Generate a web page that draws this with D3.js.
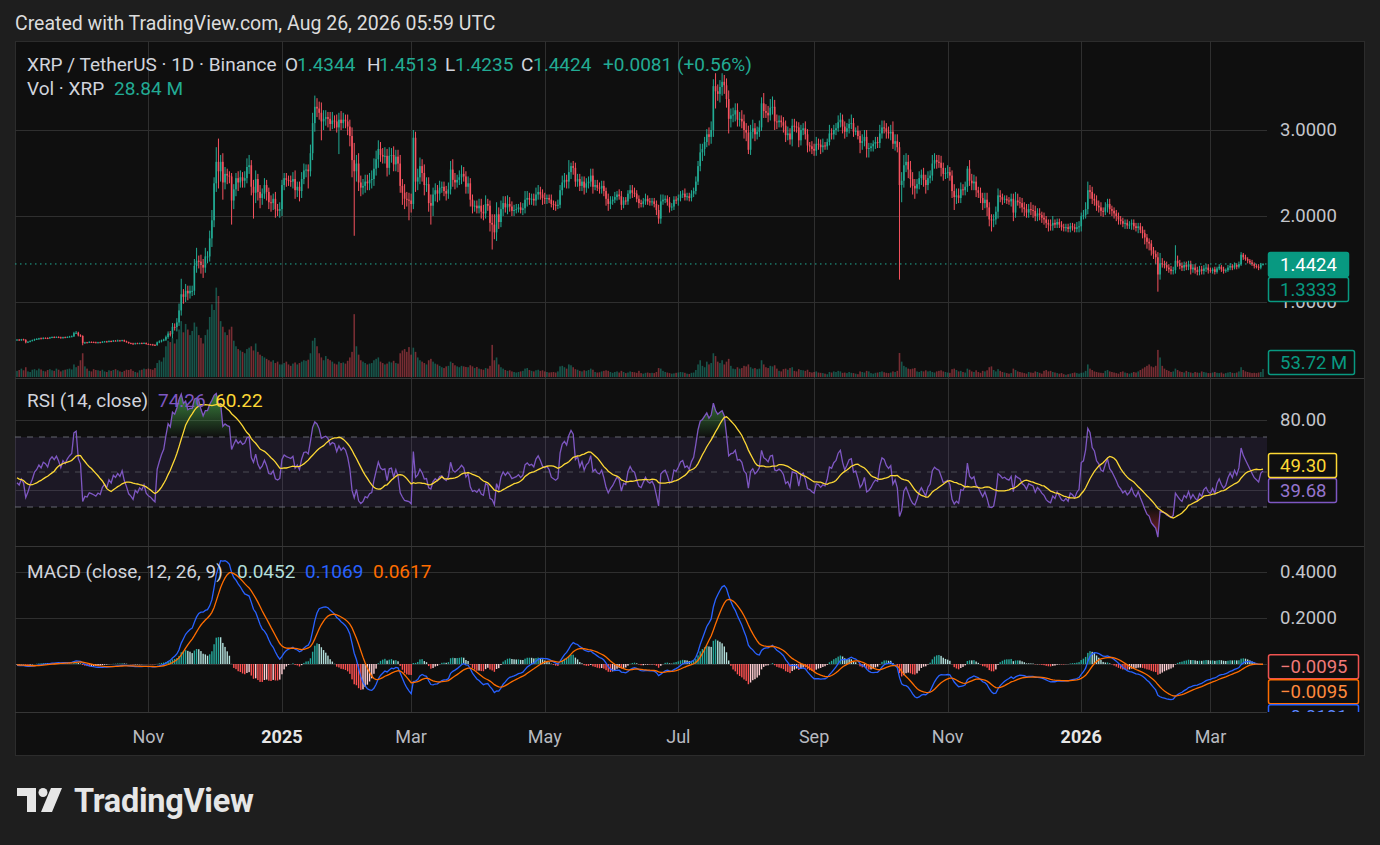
<!DOCTYPE html>
<html>
<head>
<meta charset="utf-8">
<title>XRP / TetherUS · 1D · Binance</title>
<script src="https://cdn.jsdelivr.net/npm/d3@7"></script>
<style>
  html, body { margin: 0; padding: 0; background: #1e1e1e; }
  svg { display: block; font-family: Roboto, "Noto Sans", sans-serif; }
</style>
</head>
<body>
<svg id="chart" width="1380" height="845"></svg>
<script>

// ---- Data (daily candles, Sep 2 2024 -> Mar 25 2026) ----------------------

var firstDay = new Date(Date.UTC(2024, 8, 2));

// Closes before the visible range, only used to warm up RSI / MACD.
var warmupCloses = [
  0.604,0.595,0.601,0.612,0.603,0.618,0.628,0.613,0.584,0.562,
  0.534,0.502,0.521,0.618,0.573,0.561,0.558,0.571,0.563,0.574,
  0.572,0.565,0.573,0.592,0.603,0.598,0.591,0.602,0.594,0.589,
  0.601,0.592,0.586,0.571,0.562,0.569,0.558,0.566,0.559,0.561
];

var closes = [
  // 2024 Sep
  0.562,0.558,0.566,0.559,0.531,0.538,0.548,0.556,0.567,0.571,0.578,0.574,0.583,0.581,0.577,0.588,0.592,0.589,0.594,0.589,0.582,0.591,0.588,0.594,0.598,0.601,0.638,0.642,0.612,
  // Oct
  0.605,0.522,0.531,0.529,0.536,0.534,0.531,0.528,0.532,0.529,0.538,0.542,0.536,0.546,0.541,0.551,0.548,0.553,0.549,0.556,0.543,0.534,0.522,0.518,0.512,0.521,0.517,0.522,0.519,0.524,0.512,
  // Nov
  0.508,0.506,0.502,0.499,0.531,0.542,0.553,0.562,0.592,0.633,0.629,0.711,0.708,0.762,0.902,1.09,1.06,1.13,1.10,1.13,1.13,1.42,1.48,1.47,1.43,1.40,1.53,1.53,1.74,1.95,
  // Dec
  2.38,2.63,2.52,2.63,2.39,2.49,2.47,2.46,2.18,2.31,2.44,2.39,2.45,2.41,2.44,2.57,2.59,2.34,2.27,2.43,2.28,2.21,2.26,2.36,2.28,2.16,2.15,2.20,2.08,2.06,2.08,
  // 2025 Jan
  2.36,2.44,2.42,2.41,2.40,2.43,2.30,2.34,2.29,2.43,2.53,2.54,2.52,2.73,3.08,3.27,3.25,3.20,3.10,3.13,3.15,3.13,3.07,3.11,3.10,3.03,3.12,3.08,3.12,3.10,3.04,
  // Feb
  2.93,2.65,2.52,2.61,2.39,2.33,2.35,2.40,2.38,2.42,2.43,2.55,2.66,2.78,2.71,2.69,2.70,2.56,2.70,2.71,2.60,2.69,2.61,2.35,2.27,2.20,2.19,2.18,
  // Mar
  2.14,2.91,2.40,2.45,2.58,2.50,2.36,2.37,2.15,2.12,2.25,2.30,2.26,2.33,2.34,2.29,2.26,2.31,2.54,2.42,2.39,2.42,2.45,2.49,2.46,2.34,2.38,2.19,2.11,2.12,2.09,
  // Apr
  2.12,2.05,2.03,2.14,2.12,1.92,1.90,1.81,2.02,1.93,2.08,2.15,2.10,2.14,2.11,2.06,2.07,2.08,2.10,2.07,2.09,2.19,2.21,2.19,2.20,2.18,2.25,2.28,2.25,2.21,
  // May
  2.20,2.21,2.19,2.14,2.13,2.12,2.13,2.30,2.39,2.42,2.40,2.51,2.58,2.56,2.40,2.43,2.35,2.40,2.33,2.38,2.40,2.47,2.34,2.36,2.33,2.32,2.35,2.29,2.20,2.14,2.17,
  // Jun
  2.19,2.22,2.25,2.23,2.13,2.18,2.17,2.26,2.30,2.27,2.26,2.20,2.15,2.14,2.17,2.20,2.17,2.16,2.17,2.14,2.07,1.97,2.17,2.19,2.20,2.16,2.10,2.11,2.19,2.18,
  // Jul
  2.21,2.25,2.26,2.22,2.23,2.21,2.26,2.29,2.40,2.58,2.74,2.78,2.86,2.95,2.92,3.00,3.51,3.45,3.42,3.50,3.56,3.52,3.36,3.13,3.17,3.18,3.23,3.12,3.13,3.10,3.00,
  // Aug
  2.97,2.77,2.98,3.02,2.95,2.98,3.03,3.31,3.22,3.20,3.17,3.26,3.27,3.10,3.09,3.11,3.09,3.05,2.94,2.96,2.89,3.05,3.04,3.03,2.88,3.00,3.02,2.95,2.82,2.81,2.78,
  // Sep
  2.76,2.84,2.83,2.80,2.82,2.81,2.86,2.96,2.95,3.00,3.02,3.09,3.12,3.04,2.98,3.02,3.07,3.08,2.98,2.99,2.93,2.85,2.87,2.92,2.78,2.79,2.81,2.84,2.86,2.85,
  // Oct
  2.96,3.03,3.02,2.98,2.96,2.98,2.84,2.87,2.80,2.36,2.41,2.59,2.63,2.54,2.43,2.35,2.32,2.37,2.44,2.48,2.42,2.36,2.44,2.47,2.61,2.65,2.63,2.62,2.56,2.49,2.50,
  // Nov
  2.51,2.47,2.29,2.22,2.24,2.21,2.31,2.30,2.34,2.55,2.41,2.38,2.40,2.30,2.27,2.21,2.15,2.19,2.10,1.96,1.95,1.96,2.05,2.24,2.22,2.19,2.20,2.18,2.17,2.20,
  // Dec
  2.04,2.18,2.16,2.15,2.10,2.08,2.04,2.08,2.07,2.06,2.00,2.03,2.01,1.98,1.96,1.92,1.90,1.89,1.92,1.90,1.93,1.90,1.87,1.86,1.87,1.85,1.88,1.87,1.85,1.87,1.88,
  // 2026 Jan
  2.00,2.01,2.08,2.30,2.28,2.20,2.18,2.12,2.10,2.06,2.05,2.10,2.14,2.08,2.06,2.03,2.00,1.96,1.94,1.91,1.92,1.89,1.90,1.92,1.88,1.86,1.88,1.84,1.80,1.75,1.70,
  // Feb
  1.68,1.60,1.56,1.52,1.32,1.45,1.44,1.43,1.40,1.38,1.36,1.37,1.48,1.45,1.42,1.40,1.43,1.41,1.44,1.38,1.40,1.37,1.35,1.38,1.36,1.39,1.40,1.37,
  // Mar
  1.36,1.38,1.35,1.39,1.41,1.38,1.36,1.37,1.40,1.42,1.40,1.43,1.41,1.44,1.55,1.52,1.50,1.48,1.46,1.44,1.42,1.41,1.40,1.4344,1.4424
];

// Wick above max(open, close) and below min(open, close), in cents.
var wickUp = [
  0.6,0.8,0.5,0.7,0.9,0.6,0.5,0.7,0.6,0.8,0.5,0.9,0.6,0.5,0.8,0.6,0.7,0.9,0.5,0.6,0.8,0.5,0.7,0.6,0.8,0.9,1.5,2.0,1.2,
  1.2,0.8,0.6,0.5,0.7,0.5,0.6,0.8,0.5,0.6,0.7,0.5,0.6,0.8,0.6,0.7,0.5,0.9,0.6,0.5,0.6,0.7,0.5,0.6,0.8,0.5,0.6,0.5,0.7,0.6,0.5,
  0.6,0.5,0.7,0.6,0.9,1.2,1.0,1.1,1.8,2.5,3,4.5,4,5,8,18,6,8,6,6,6,8,15,6,8,7,10,6,9,12,
  7,17,27,8,10,8,6,5,4,6,6,8,8,6,8,10,12,6,8,10,6,8,6,8,6,5,8,6,8,6,8,
  6,6,6,5,6,8,10,6,6,8,8,6,6,10,12,13,10,8,12,10,8,6,8,10,6,8,8,10,8,6,8,
  8,10,20,10,12,8,8,8,8,8,10,12,10,10,8,8,10,8,10,8,10,8,8,10,8,10,8,8,
  8,9,7,10,10,8,10,8,8,10,8,8,6,8,6,6,6,8,10,12,8,6,8,10,8,6,8,6,6,6,6,
  8,8,8,10,6,6,10,12,14,8,10,8,8,10,8,6,6,6,4,6,6,10,8,6,6,6,8,8,6,6,
  6,4,4,6,4,4,6,6,8,8,6,14,4,6,6,6,6,6,6,6,6,8,8,6,6,6,6,6,4,6,6,
  4,6,4,6,6,4,4,4,6,6,6,4,4,4,4,6,4,4,4,4,4,6,8,6,4,4,6,4,4,4,
  4,4,4,6,4,4,4,4,6,6,10,6,6,6,8,10,8,15,8,8,10,8,8,10,8,8,8,8,8,10,8,
  8,8,8,10,6,6,8,7,12,8,8,10,12,8,8,6,6,6,6,8,6,8,8,6,6,6,6,8,6,4,6,
  6,8,6,6,8,4,4,10,6,6,6,8,8,6,6,6,6,10,6,4,6,6,8,8,8,6,4,4,6,6,
  10,8,8,6,6,8,12,8,8,6,10,12,10,8,10,8,8,6,8,6,8,6,8,6,10,8,6,8,8,6,6,
  8,6,6,8,8,8,8,6,6,3,10,8,8,6,4,6,6,8,8,6,6,6,6,8,6,4,4,4,4,6,
  6,10,8,6,6,6,6,6,8,6,6,6,6,4,6,4,4,6,8,4,4,4,4,4,4,4,4,4,4,6,6,
  4,6,8,10,6,6,6,6,6,6,4,6,6,6,4,4,4,4,4,4,4,4,4,4,4,4,4,4,4,4,4,
  4,4,4,4,6,12,6,4,4,4,4,4,18,6,4,4,4,4,4,4,4,4,4,4,4,4,4,4,
  3,2,3,2,3,2,3,2,3,3,2,3,2,3,3,2,3,2,2,3,2,2,3,2,0.89
];

var wickDown = [
  0.7,0.6,0.9,0.5,1.2,0.6,0.7,0.5,0.8,0.6,0.9,0.5,0.7,0.6,0.8,0.5,0.6,0.7,0.5,0.9,0.6,0.8,0.5,0.7,0.6,0.5,0.8,1.0,1.2,
  1.0,2.5,0.8,0.6,0.5,0.7,0.6,0.5,0.8,0.6,0.5,0.7,0.6,0.5,0.8,0.6,0.5,0.7,0.6,0.5,0.8,0.6,0.7,0.5,0.8,0.6,0.5,0.7,0.6,0.5,0.8,
  0.8,0.6,0.7,0.9,0.8,1.0,1.2,1.0,1.5,2.0,3,5,4,5,4,6,8,6,8,6,6,5,8,8,10,12,6,8,6,10,
  8,10,20,12,20,8,10,8,28,10,8,10,6,8,8,6,8,10,30,12,10,12,8,6,10,8,10,8,10,6,8,
  8,6,8,6,6,8,10,8,12,8,6,8,20,6,8,10,10,8,22,10,8,10,8,6,8,6,31,8,6,8,10,
  12,20,75,12,10,10,8,8,8,8,10,8,8,10,8,8,8,10,8,8,8,8,10,8,14,12,8,23,
  10,6,12,10,8,10,12,8,10,22,12,8,10,8,6,6,8,6,6,8,8,6,6,8,6,8,8,8,8,6,6,
  6,8,8,6,6,10,29,8,10,8,6,8,6,8,6,6,6,4,4,4,6,6,8,6,6,6,6,6,6,8,
  6,6,4,4,6,6,4,4,6,6,8,8,8,8,6,6,6,6,8,6,6,6,8,4,4,6,6,6,8,8,6,
  4,4,4,4,6,4,4,4,6,6,4,4,6,4,4,4,4,4,4,4,6,6,6,4,4,4,6,4,4,4,
  6,4,4,4,4,4,4,4,4,4,6,10,8,6,10,8,8,20,8,10,10,10,10,17,10,8,8,8,8,8,10,
  10,5,6,8,8,6,6,4,8,6,8,6,8,10,8,6,6,8,8,6,6,8,6,6,8,6,6,6,8,6,6,
  6,6,6,8,6,4,4,4,6,6,6,4,6,8,8,6,6,6,6,4,4,12,8,6,10,10,4,6,6,6,
  6,6,6,8,6,8,6,8,6,110,20,8,8,10,10,10,12,6,6,8,8,10,6,6,6,6,8,6,10,8,6,
  6,6,8,15,8,6,6,6,6,6,6,8,8,8,6,6,8,6,10,8,13,8,6,8,6,6,4,4,4,6,
  10,6,4,6,6,8,6,6,6,8,6,6,6,6,6,6,8,6,6,4,4,4,4,4,4,4,4,4,4,4,6,
  6,4,4,6,8,6,6,6,6,6,6,4,6,6,6,6,6,6,4,4,6,4,4,6,4,4,6,4,6,8,8,
  8,6,6,8,20,6,4,4,4,4,4,4,4,4,4,4,4,4,4,6,4,4,4,4,4,4,4,4,
  2,3,3,2,2,3,3,2,2,3,3,2,3,2,2,3,2,3,2,2,3,2,3,2,1.09
];

// Daily volume, millions of XRP.
var volumes = [
  22,25,30,24,35,20,18,26,28,24,30,27,22,20,25,28,24,22,30,26,20,24,26,28,30,27,45,35,40,
  60,85,38,30,22,20,28,25,24,22,26,20,18,24,22,25,28,24,20,18,22,26,25,28,22,18,16,24,26,30,28,
  30,28,26,32,50,60,55,70,110,130,125,140,120,135,170,200,160,190,170,150,165,195,180,150,140,120,150,170,215,260,
  240,320,290,200,180,160,150,170,180,130,110,100,95,90,85,100,105,110,95,120,90,80,75,70,65,60,55,60,50,55,45,
  45,50,55,45,40,48,52,45,50,55,60,58,62,85,130,140,110,85,70,60,75,65,60,55,48,45,55,50,52,48,58,
  70,90,225,110,80,60,55,50,45,48,50,60,65,70,55,50,45,48,55,52,58,50,48,85,95,100,90,107,
  80,105,90,70,60,55,50,45,60,65,55,48,45,40,35,32,38,40,55,50,42,38,35,40,38,36,35,42,38,32,36,
  30,28,26,32,30,40,115,60,70,45,35,30,25,22,24,20,18,16,18,20,22,30,32,25,22,20,24,26,22,24,
  20,18,16,17,18,16,20,38,40,35,30,45,42,35,28,26,22,20,24,22,25,30,26,18,16,17,20,22,24,22,18,
  15,18,20,16,22,18,14,16,20,18,17,15,22,14,12,15,16,14,15,14,18,32,30,22,18,16,14,12,13,15,
  16,18,17,15,12,11,15,16,25,45,60,40,35,55,45,50,85,75,55,50,60,45,55,65,40,30,28,35,30,32,40,
  38,45,35,30,32,28,30,60,45,35,32,40,38,42,30,22,20,28,30,26,32,35,22,20,28,25,24,22,26,18,16,
  18,20,16,15,14,12,10,18,16,20,18,22,20,15,16,14,18,15,14,12,10,20,18,16,22,20,14,12,15,16,
  18,20,17,15,14,16,20,18,22,86,55,40,35,30,28,30,32,20,18,22,20,24,20,22,18,16,20,22,24,20,18,
  16,15,28,30,25,20,22,18,16,30,26,20,18,24,18,15,22,20,24,35,38,25,20,28,22,18,16,14,12,14,
  30,25,20,18,16,14,12,18,16,15,20,18,15,12,22,25,20,22,18,16,14,12,14,10,8,10,12,14,16,14,12,
  15,16,22,45,30,25,20,18,16,15,14,22,25,20,18,16,14,12,18,20,16,14,12,15,18,16,20,25,30,35,40,
  45,38,35,40,97,70,40,30,25,22,18,20,30,25,20,18,16,22,18,16,14,18,16,15,20,18,16,14,
  14,16,18,15,14,16,12,14,16,18,15,14,16,20,35,25,20,18,16,14,15,14,16,18,28.84
];

// Axis ticks and the value tags on the right-hand scale.
var priceTicks = [3, 2, 1];
var rsiTicks = [80, 40];
var rsiLevels = [70, 50, 30];
var macdTicks = [0.4, 0.2, 0];
var priceTags = [1.4424, 1.3333];
var volumeTag = 53.72;
var rsiTags = [39.68, 49.30];
var macdTags = [-0.0095, -0.0095, -0.0191];

var headerText = 'Created with TradingView.com, Aug 26, 2026 05:59 UTC';
var legendOhlc = ['1.4344', '1.4513', '1.4235', '1.4424'];
var legendChange = ['+0.0081', '(+0.56%)'];
var legendVolume = '28.84 M';
var legendRsi = ['74.26', '60.22'];
var legendMacd = ['0.0452', '0.1069', '0.0617'];


// ---- Colours & layout -------------------------------------------------------

var UP = '#22ab94', DOWN = '#f7525f';
var GRID = '#2f2f2f', TEXT = '#d1d4dc', AXIS_TEXT = '#c4c6cc';
var RSI_COLOR = '#7e57c2', RSI_MA = '#fdd835';
var MACD_COLOR = '#2962ff', SIGNAL_COLOR = '#ff6d00';

var frameLeft = 15, frameRight = 1364, frameTop = 41, frameBottom = 755;
var plotRight = 1267;
var panes = { price: [frameTop, 378], rsi: [378, 546], macd: [546, 712] };
var tagX = 1268, tagH = 24;


// ---- Indicators --------------------------------------------------------------

/**
 * Exponential moving average.
 */
function ema(values, n) {
  var k = 2 / (n + 1), prev = null;
  return values.map(function(v) {
    prev = prev === null ? v : v * k + prev * (1 - k);
    return prev;
  });
}

/**
 * Simple moving average, skipping the leading nulls.
 */
function sma(values, n) {
  return values.map(function(v, i) {
    var win = values.slice(Math.max(0, i - n + 1), i + 1)
      .filter(function(d) { return d !== null; });
    return win.length < n ? null : d3.mean(win);
  });
}

/**
 * Wilder's RSI.
 */
function rsi(values, n) {
  var avgUp = 0, avgDown = 0;
  return values.map(function(v, i) {
    if (i === 0) return null;
    var ch = v - values[i - 1];
    var up = Math.max(ch, 0), down = Math.max(-ch, 0);
    if (i <= n) {
      avgUp += up / n;
      avgDown += down / n;
    } else {
      avgUp = (avgUp * (n - 1) + up) / n;
      avgDown = (avgDown * (n - 1) + down) / n;
    }
    if (i < n) return null;
    return avgDown === 0 ? 100 : 100 - 100 / (1 + avgUp / avgDown);
  });
}

var n = closes.length;
if (wickUp.length !== n || wickDown.length !== n || volumes.length !== n) {
  throw new Error('series length mismatch: ' +
    [n, wickUp.length, wickDown.length, volumes.length].join(','));
}

var allCloses = warmupCloses.concat(closes);
var skip = warmupCloses.length;
var rsiAll = rsi(allCloses, 14);
var rsiMaAll = sma(rsiAll, 14);
var ema12 = ema(allCloses, 12), ema26 = ema(allCloses, 26);
var macdAll = ema12.map(function(v, i) { return v - ema26[i]; });
var signalAll = ema(macdAll, 9);

var bars = closes.map(function(c, i) {
  var j = i + skip;
  var open = allCloses[j - 1];
  return {
    date: d3.utcDay.offset(firstDay, i),
    open: open,
    close: c,
    high: Math.max(open, c) + wickUp[i] / 100,
    low: Math.min(open, c) - wickDown[i] / 100,
    volume: volumes[i],
    rsi: rsiAll[j],
    rsiMa: rsiMaAll[j],
    macd: macdAll[j],
    signal: signalAll[j],
    hist: macdAll[j] - signalAll[j],
    histPrev: macdAll[j - 1] - signalAll[j - 1]
  };
});


// ---- Scales ------------------------------------------------------------------

var x = d3.scaleUtc()
  .domain([firstDay, bars[n - 1].date])
  .range([17, 1263]);
var yPrice = d3.scaleLinear().domain([1, 3]).range([302, 130]);
var yVol = d3.scaleLinear().domain([0, 358]).range([377, 277]);
var yRsi = d3.scaleLinear().domain([30, 70]).range([507, 437]);
var yMacd = d3.scaleLinear().domain([0, 0.4]).range([664, 572]);
var monthTicks = x.ticks(d3.utcMonth.every(2));


// ---- Frame -------------------------------------------------------------------

var svg = d3.select('#chart');
var defs = svg.append('defs');

svg.append('rect')
  .attr('width', 1380).attr('height', 845).attr('fill', '#1e1e1e');

svg.append('text')
  .attr('x', 15).attr('y', 23).attr('dy', '0.35em')
  .attr('fill', '#dcdcdc').attr('font-size', 19.5)
  .text(headerText);

svg.append('rect')
  .attr('x', frameLeft + 0.5).attr('y', frameTop + 0.5)
  .attr('width', frameRight - frameLeft).attr('height', frameBottom - frameTop)
  .attr('fill', '#0f0f0f').attr('stroke', '#2c2c2c');

// One clip rectangle per pane.
Object.keys(panes).forEach(function(key) {
  defs.append('clipPath').attr('id', 'clip-' + key)
    .append('rect')
    .attr('x', frameLeft).attr('y', panes[key][0])
    .attr('width', plotRight - frameLeft)
    .attr('height', panes[key][1] - panes[key][0]);
});

var grid = svg.append('g').attr('stroke', GRID).attr('stroke-width', 1);

// Vertical month lines run through all three panes.
grid.selectAll('line.v').data(monthTicks).join('line')
  .attr('x1', function(d) { return Math.round(x(d)) + 0.5; })
  .attr('x2', function(d) { return Math.round(x(d)) + 0.5; })
  .attr('y1', frameTop).attr('y2', 712);

function hline(y, x1, x2, color) {
  grid.append('line')
    .attr('x1', x1).attr('x2', x2)
    .attr('y1', Math.round(y) + 0.5).attr('y2', Math.round(y) + 0.5)
    .attr('stroke', color || GRID);
}

priceTicks.forEach(function(v) { hline(yPrice(v), frameLeft, plotRight); });
rsiTicks.forEach(function(v) { hline(yRsi(v), frameLeft, plotRight); });
macdTicks.forEach(function(v) { hline(yMacd(v), frameLeft, plotRight); });

// Pane separators and the time-axis edge.
hline(panes.price[1], frameLeft, frameRight, '#363636');
hline(panes.rsi[1], frameLeft, frameRight, '#363636');
hline(712, frameLeft, plotRight, '#363636');


// ---- Price pane --------------------------------------------------------------

var pricePane = svg.append('g').attr('clip-path', 'url(#clip-price)');
var bw = 1.6;

pricePane.append('g').selectAll('rect').data(bars).join('rect')
  .attr('x', function(d) { return x(d.date) - bw / 2; })
  .attr('width', bw)
  .attr('y', function(d) { return yVol(d.volume); })
  .attr('height', function(d) { return yVol(0) - yVol(d.volume); })
  .attr('fill', function(d) { return d.close >= d.open ? UP : DOWN; })
  .attr('fill-opacity', 0.45);

var candles = pricePane.append('g').selectAll('g').data(bars).join('g')
  .attr('fill', function(d) { return d.close >= d.open ? UP : DOWN; })
  .attr('stroke', function(d) { return d.close >= d.open ? UP : DOWN; });

candles.append('line')
  .attr('x1', function(d) { return x(d.date); })
  .attr('x2', function(d) { return x(d.date); })
  .attr('y1', function(d) { return yPrice(d.high); })
  .attr('y2', function(d) { return yPrice(d.low); })
  .attr('stroke-width', 1);

candles.append('rect')
  .attr('stroke', 'none')
  .attr('x', function(d) { return x(d.date) - bw / 2; })
  .attr('width', bw)
  .attr('y', function(d) { return yPrice(Math.max(d.open, d.close)); })
  .attr('height', function(d) {
    return Math.max(1, Math.abs(yPrice(d.open) - yPrice(d.close)));
  });

// Last price line.
svg.append('line')
  .attr('x1', frameLeft).attr('x2', plotRight)
  .attr('y1', yPrice(bars[n - 1].close)).attr('y2', yPrice(bars[n - 1].close))
  .attr('stroke', UP).attr('stroke-dasharray', '1.5,3.5');


// ---- RSI pane ----------------------------------------------------------------

var rsiPane = svg.append('g').attr('clip-path', 'url(#clip-rsi)');

rsiPane.append('rect')
  .attr('x', frameLeft).attr('width', plotRight - frameLeft)
  .attr('y', yRsi(70)).attr('height', yRsi(30) - yRsi(70))
  .attr('fill', 'rgba(126,87,194,0.12)');

rsiPane.selectAll('line.level').data(rsiLevels).join('line')
  .attr('x1', frameLeft).attr('x2', plotRight)
  .attr('y1', function(d) { return yRsi(d); })
  .attr('y2', function(d) { return yRsi(d); })
  .attr('stroke', '#787b86')
  .attr('stroke-opacity', function(d) { return d === 50 ? 0.5 : 0.8; })
  .attr('stroke-dasharray', '6,6');

function gradient(id, color, y1, y2) {
  var g = defs.append('linearGradient').attr('id', id)
    .attr('gradientUnits', 'userSpaceOnUse')
    .attr('x1', 0).attr('x2', 0).attr('y1', y1).attr('y2', y2);
  g.append('stop').attr('offset', 0).attr('stop-color', color).attr('stop-opacity', 0.9);
  g.append('stop').attr('offset', 1).attr('stop-color', color).attr('stop-opacity', 0);
}
gradient('ob', '#4caf50', yRsi(100), yRsi(70));
gradient('os', '#f23645', yRsi(0), yRsi(30));

var rsiBars = bars.filter(function(d) { return d.rsi !== null; });

rsiPane.append('path').datum(rsiBars)
  .attr('fill', 'url(#ob)')
  .attr('d', d3.area()
    .x(function(d) { return x(d.date); })
    .y0(yRsi(70))
    .y1(function(d) { return yRsi(Math.max(d.rsi, 70)); }));

rsiPane.append('path').datum(rsiBars)
  .attr('fill', 'url(#os)')
  .attr('d', d3.area()
    .x(function(d) { return x(d.date); })
    .y0(yRsi(30))
    .y1(function(d) { return yRsi(Math.min(d.rsi, 30)); }));

rsiPane.append('path').datum(rsiBars)
  .attr('fill', 'none').attr('stroke', RSI_COLOR).attr('stroke-width', 1.3)
  .attr('d', d3.line()
    .x(function(d) { return x(d.date); })
    .y(function(d) { return yRsi(d.rsi); }));

rsiPane.append('path')
  .datum(bars.filter(function(d) { return d.rsiMa !== null; }))
  .attr('fill', 'none').attr('stroke', RSI_MA).attr('stroke-width', 1.3)
  .attr('d', d3.line()
    .x(function(d) { return x(d.date); })
    .y(function(d) { return yRsi(d.rsiMa); }));


// ---- MACD pane ---------------------------------------------------------------

var macdPane = svg.append('g').attr('clip-path', 'url(#clip-macd)');

function histColor(d) {
  if (d.hist >= 0) return d.hist > d.histPrev ? '#26a69a' : '#b2dfdb';
  return d.hist > d.histPrev ? '#ffcdd2' : '#ff5252';
}

macdPane.append('g').selectAll('rect').data(bars).join('rect')
  .attr('x', function(d) { return x(d.date) - 0.7; })
  .attr('width', 1.4)
  .attr('y', function(d) { return Math.min(yMacd(0), yMacd(d.hist)); })
  .attr('height', function(d) { return Math.abs(yMacd(d.hist) - yMacd(0)); })
  .attr('fill', histColor);

macdPane.append('path').datum(bars)
  .attr('fill', 'none').attr('stroke', MACD_COLOR).attr('stroke-width', 1.3)
  .attr('d', d3.line()
    .x(function(d) { return x(d.date); })
    .y(function(d) { return yMacd(d.macd); }));

macdPane.append('path').datum(bars)
  .attr('fill', 'none').attr('stroke', SIGNAL_COLOR).attr('stroke-width', 1.3)
  .attr('d', d3.line()
    .x(function(d) { return x(d.date); })
    .y(function(d) { return yMacd(d.signal); }));


// ---- Right-hand scale --------------------------------------------------------

var axis = svg.append('g')
  .attr('font-size', 18.5).attr('fill', AXIS_TEXT);

function axisText(y, text) {
  axis.append('text')
    .attr('x', 1280).attr('y', y).attr('dy', '0.35em').text(text);
}

// Tick labels that sit under a value tag are hidden, as on the original.
priceTicks.forEach(function(v) { axisText(yPrice(v), v.toFixed(4)); });
rsiTicks.slice(0, 1).forEach(function(v) { axisText(yRsi(v), v.toFixed(2)); });
macdTicks.slice(0, 2).forEach(function(v) { axisText(yMacd(v), v.toFixed(4)); });

/**
 * Stack overlapping tags: the first keeps its place, the others are pushed
 * away from it in direction `dir`.
 */
function stack(ys, dir) {
  var out = [];
  ys.forEach(function(y, i) {
    var cy = y;
    if (i > 0) {
      var prev = out[i - 1];
      if (dir > 0 && cy < prev + tagH + 1) cy = prev + tagH + 1;
      if (dir < 0 && cy > prev - tagH - 1) cy = prev - tagH - 1;
    }
    out.push(cy);
  });
  return out;
}

function tag(g, cy, text, opts) {
  g.append('rect')
    .attr('x', tagX + 0.5).attr('y', cy - tagH / 2 + 0.5)
    .attr('width', opts.width).attr('height', tagH)
    .attr('rx', 2)
    .attr('fill', opts.fill || '#0f0f0f')
    .attr('stroke', opts.stroke).attr('stroke-width', 1.5);
  g.append('text')
    .attr('x', tagX + 12).attr('y', cy).attr('dy', '0.36em')
    .attr('font-size', 18.5)
    .attr('fill', opts.color || opts.stroke)
    .text(text);
}

var tags = svg.append('g');
var fmtSigned = function(v) {
  return v < 0 ? '\u2212' + Math.abs(v).toFixed(4) : v.toFixed(4);
};

var priceYs = stack(priceTags.map(yPrice), 1);
tag(tags, priceYs[0], priceTags[0].toFixed(4),
  { width: 80, fill: '#089981', stroke: '#089981', color: '#ffffff' });
tag(tags, priceYs[1], priceTags[1].toFixed(4), { width: 80, stroke: '#089981' });

tag(tags, yVol(volumeTag), volumeTag.toFixed(2) + ' M',
  { width: 86, stroke: '#089981' });

var rsiYs = stack(rsiTags.map(yRsi), -1);
tag(tags, rsiYs[0], rsiTags[0].toFixed(2),
  { width: 68, stroke: RSI_COLOR, color: '#9575cd' });
tag(tags, rsiYs[1], rsiTags[1].toFixed(2), { width: 68, stroke: RSI_MA });

// The MACD line tag is cut off by the time axis.
defs.append('clipPath').attr('id', 'clip-macd-tags')
  .append('rect').attr('x', tagX - 2).attr('y', panes.macd[0])
  .attr('width', 120).attr('height', 712 - panes.macd[0]);
var macdTagGroup = tags.append('g').attr('clip-path', 'url(#clip-macd-tags)');
var macdYs = stack(macdTags.map(yMacd), 1);
tag(macdTagGroup, macdYs[0], fmtSigned(macdTags[0]),
  { width: 90, stroke: '#ef5350', color: '#f07a78' });
tag(macdTagGroup, macdYs[1], fmtSigned(macdTags[1]),
  { width: 90, stroke: SIGNAL_COLOR, color: '#ff8a3d' });
tag(macdTagGroup, macdYs[2], fmtSigned(macdTags[2]),
  { width: 90, stroke: MACD_COLOR, color: '#5b86ff' });


// ---- Time axis ---------------------------------------------------------------

svg.append('g').selectAll('text').data(monthTicks).join('text')
  .attr('x', function(d) { return x(d); })
  .attr('y', 737).attr('dy', '0.35em')
  .attr('text-anchor', 'middle')
  .attr('font-size', 18)
  .attr('font-weight', function(d) { return d.getUTCMonth() === 0 ? 700 : 400; })
  .attr('fill', function(d) { return d.getUTCMonth() === 0 ? '#e6e6e6' : '#b8bac0'; })
  .text(function(d) {
    return d.getUTCMonth() === 0 ? d3.utcFormat('%Y')(d) : d3.utcFormat('%b')(d);
  });


// ---- Legends -----------------------------------------------------------------

var legend = svg.append('g').attr('font-size', 19);

function legendText(xPos, y, text, color) {
  legend.append('text')
    .attr('x', xPos).attr('y', y).attr('dy', '0.35em')
    .attr('fill', color).text(text);
}

legendText(27, 64, 'XRP / TetherUS \u00b7 1D \u00b7 Binance', TEXT);
[['O', 285], ['H', 367], ['L', 445], ['C', 521]].forEach(function(p, i) {
  legendText(p[1], 64, p[0], TEXT);
  legendText(p[1] + (p[0] === 'L' ? 10 : 12), 64, legendOhlc[i], UP);
});
legendText(603, 64, legendChange[0], UP);
legendText(677, 64, legendChange[1], UP);

legendText(27, 88, 'Vol \u00b7 XRP', TEXT);
legendText(114, 88, legendVolume, UP);

legendText(27, 400, 'RSI (14, close)', TEXT);
legendText(158, 400, legendRsi[0], RSI_COLOR);
legendText(215, 400, legendRsi[1], RSI_MA);

legendText(27, 571, 'MACD (close, 12, 26, 9)', TEXT);
legendText(237, 571, legendMacd[0], '#b2dfdb');
legendText(305, 571, legendMacd[1], MACD_COLOR);
legendText(373, 571, legendMacd[2], SIGNAL_COLOR);


// ---- Footer logo -------------------------------------------------------------

var logo = svg.append('g')
  .attr('transform', 'translate(17,788)')
  .attr('fill', '#e6e6e6');
logo.append('path').attr('d', 'M0 0H19V24H10V8H0Z');
logo.append('circle').attr('cx', 26).attr('cy', 4.5).attr('r', 4.5);
logo.append('path').attr('d', 'M34 0H45L35 24H24Z');
svg.append('text')
  .attr('x', 74).attr('y', 812)
  .attr('font-size', 32.5).attr('font-weight', 700)
  .attr('letter-spacing', -0.3)
  .attr('fill', '#e6e6e6')
  .text('TradingView');

</script>
</body>
</html>
